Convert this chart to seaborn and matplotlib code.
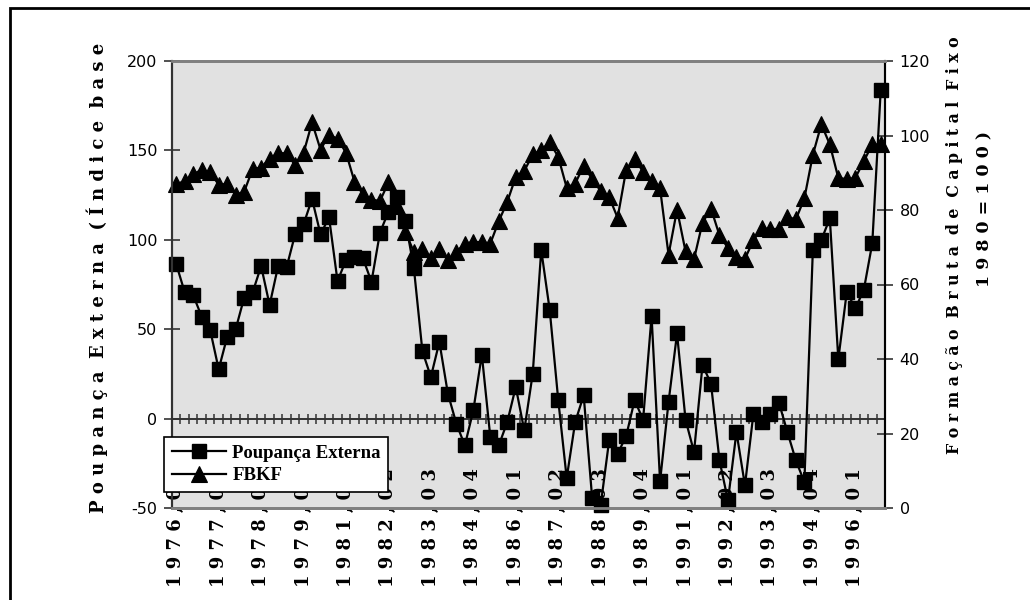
import numpy as np
import pandas as pd
import matplotlib
matplotlib.use("Agg")
import matplotlib.pyplot as plt
import seaborn as sns
from matplotlib.patches import Rectangle
from matplotlib.transforms import Bbox, TransformedBbox, blended_transform_factory

plt.rcParams["axes.unicode_minus"] = False

# ---------------- data ----------------
poupanca = [86.4, 70.6, 69.0, 57.0, 49.5, 27.6, 45.7, 50.0, 67.6, 70.6,
            85.3, 63.5, 85.3, 84.6, 103.0, 108.7, 122.9, 103.0, 112.6, 76.9,
            88.7, 90.5, 89.6, 76.5, 104.0, 115.7, 123.8, 110.5, 84.0, 37.7,
            23.3, 42.9, 14.0, -2.8, -15.0, 4.6, 35.8, -10.3, -15.0, -1.9,
            17.7, -6.6, 25.2, 94.3, 60.7, 10.6, -33.3, -1.9, 13.0, -44.5,
            -48.6, -12.2, -19.6, -9.9, 10.3, -0.6, 57.3, -35.1, 9.3, 47.6,
            -0.6, -18.7, 29.9, 19.6, -23.4, -45.8, -7.5, -37.4, 2.8, -1.9,
            2.8, 9.0, -7.5, -23.4, -35.5, 94.3, 99.9, 112.0, 33.2, 70.9,
            61.6, 71.9, 98.0, 184.0]
fbkf = [86.9, 87.8, 89.6, 90.8, 90.1, 86.8, 87.0, 84.1, 84.9, 91.0,
        91.4, 93.8, 95.3, 95.2, 92.1, 95.3, 103.5, 96.2, 100.2, 99.1,
        95.4, 87.6, 84.2, 82.8, 82.4, 87.4, 81.0, 74.1, 68.7, 69.4,
        67.1, 69.6, 66.5, 68.7, 71.0, 71.4, 71.4, 71.0, 77.0, 82.2,
        88.9, 90.5, 94.9, 96.1, 98.2, 94.3, 86.0, 87.1, 91.9, 88.3,
        85.1, 83.5, 77.9, 90.7, 93.7, 90.3, 87.8, 85.8, 68.0, 80.1,
        68.9, 66.8, 76.6, 80.4, 73.2, 69.8, 67.4, 66.9, 71.9, 75.2,
        74.8, 75.0, 78.1, 77.5, 83.1, 94.8, 103.0, 97.6, 88.6, 88.3,
        88.6, 93.1, 97.6, 97.6]
tick_labels = ["1976,01", "1977,02", "1978,03", "1979,04", "1981,01", "1982,02",
               "1983,03", "1984,04", "1986,01", "1987,02", "1988,03", "1989,04",
               "1991,01", "1992,02", "1993,03", "1994,04", "1996,01"]
label_step = 5
series_names = ["Poupança Externa", "FBKF"]
left_title = "Poupança Externa (Índice base 1980=100)"
right_title_1 = "Formação Bruta de Capital Fixo (Índice base"
right_title_2 = "1980=100)"
left_ticks = [-50, 0, 50, 100, 150, 200]
right_ticks = [0, 20, 40, 60, 80, 100, 120]


def spaced(s):
    return "  ".join(" ".join(w) for w in s.split(" "))


W, H = 1030, 600
fig = plt.figure(figsize=(W / 100, H / 100), dpi=100)
fig.patch.set_facecolor("white")

ax = fig.add_axes([172 / W, 1 - 508 / H, (885 - 172) / W, (508 - 61) / H])
ax2 = ax.twinx()
ax.set_zorder(3)
ax2.set_zorder(1)
ax.patch.set_visible(False)
ax2.patch.set_visible(True)
ax2.patch.set_facecolor("#e1e1e1")

df = pd.DataFrame({"t": np.arange(len(poupanca)), "poup": poupanca, "fbkf": fbkf})

sns.lineplot(data=df, x="t", y="poup", ax=ax, color="black", lw=1.6,
             marker="s", markersize=9.8, markeredgecolor="black", markeredgewidth=1,
             legend=False, clip_on=False, label=series_names[0])
sns.lineplot(data=df, x="t", y="fbkf", ax=ax2, color="black", lw=1.6,
             marker="^", markersize=11, markeredgecolor="black", markeredgewidth=0.8,
             legend=False, clip_on=False, label=series_names[1])

n = len(poupanca)
ax.set_xlim(-0.5, n - 0.5)
ax.set_ylim(left_ticks[0], left_ticks[-1])
ax2.set_ylim(right_ticks[0], right_ticks[-1])
ax.set_xlabel("")
ax.set_ylabel("")
ax2.set_ylabel("")
ax.set_xticks([])
ax2.set_xticks([])
ax.set_yticks(left_ticks)
ax2.set_yticks(right_ticks)

for a in (ax, ax2):
    a.tick_params(axis="y", direction="inout", length=11, width=1.2, color="#333333",
                  labelsize=11.5, pad=5, labelfontfamily="DejaVu Sans")
    for s in a.spines.values():
        s.set_linewidth(1.5)
ax.spines["left"].set_color("#333333")
ax2.spines["right"].set_color("#333333")
for a in (ax, ax2):
    a.spines["top"].set_color("#808080")
    a.spines["bottom"].set_color("#808080")
    a.spines["top"].set_linewidth(2)
    a.spines["bottom"].set_linewidth(2)

# category axis crossing at zero
loc = (0 - left_ticks[0]) / (left_ticks[-1] - left_ticks[0])
sec = ax.secondary_xaxis(loc)
sec.set_xticks(np.arange(-0.5, n, 1.0))
sec.tick_params(axis="x", direction="inout", length=7.5, width=1.1, color="#333333",
                labelbottom=False)
sec.spines["bottom"].set_color("#333333")
sec.spines["bottom"].set_linewidth(1.4)

# category labels
trans = blended_transform_factory(ax2.transData, fig.transFigure)
for i, lab in zip(range(0, n, label_step), tick_labels):
    ax2.text(i, 13 / H, spaced(lab), transform=trans, rotation=90, ha="center",
             va="bottom", fontfamily="DejaVu Serif", fontweight="bold", fontsize=13,
             color="black", zorder=0.5, clip_on=False)

# axis titles (clipped at top like reference)
clipbb = TransformedBbox(Bbox([[0, 0], [1, 1 - 40 / H]]), fig.transFigure)
t1 = fig.text(97 / W, 1 - 513 / H, spaced(left_title), rotation=90, ha="center",
              va="bottom", fontfamily="DejaVu Serif", fontweight="bold", fontsize=13)
t1.set_clip_box(clipbb)
t1.set_clip_on(True)
clipbb2 = TransformedBbox(Bbox([[0, 0], [1, 1 - 37 / H]]), fig.transFigure)
t2 = fig.text(953 / W, 1 - 454 / H, spaced(right_title_1), rotation=90, ha="center",
              va="bottom", fontfamily="DejaVu Serif", fontweight="bold", fontsize=11.3)
t2.set_clip_box(clipbb2)
t2.set_clip_on(True)
fig.text(985 / W, 1 - 209 / H, spaced(right_title_2), rotation=90, ha="center",
         va="center", fontfamily="DejaVu Serif", fontweight="bold", fontsize=12.5)

# legend
handles = [ax.lines[0], ax2.lines[0]]
leg = fig.legend(handles, series_names, loc="lower left",
                 bbox_to_anchor=(164 / W, 1 - 492 / H), bbox_transform=fig.transFigure,
                 borderaxespad=0, frameon=True, fancybox=False, framealpha=1,
                 edgecolor="black", facecolor="white", handlelength=2.9,
                 handletextpad=0.35, borderpad=0.4, labelspacing=0.3,
                 prop={"family": "Liberation Serif", "weight": "bold", "size": 13.5})
leg.get_frame().set_linewidth(1.2)
leg.set_zorder(10)
for t in leg.get_texts():
    t.set_color("black")

# outer chart border
fig.add_artist(Rectangle((10 / W, -0.2), 1.2, 1.2 - 8 / H, transform=fig.transFigure,
                         fill=False, lw=2, ec="black"))

fig.savefig("out.png", dpi=100)
